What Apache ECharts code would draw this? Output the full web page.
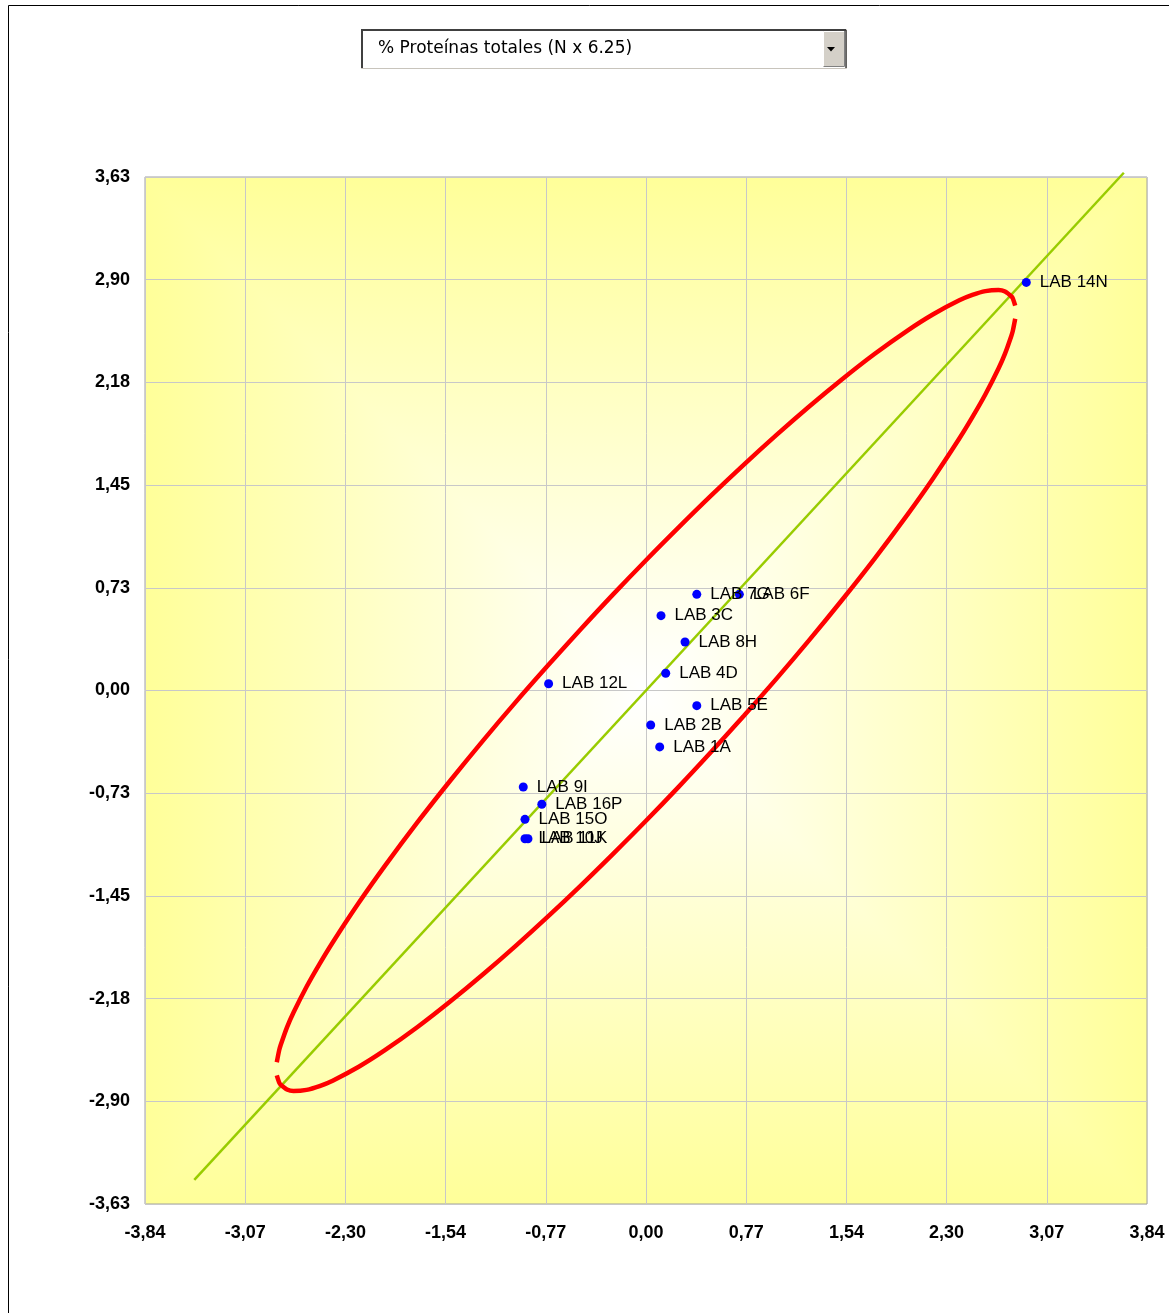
<!DOCTYPE html>
<html>
<head>
<meta charset="utf-8">
<title>Youden</title>
<script src="https://cdn.jsdelivr.net/npm/echarts@6/dist/echarts.min.js"></script>
<style>
  html, body { margin: 0; padding: 0; background: #ffffff; }
  #chart { width: 1169px; height: 1313px; }
</style>
</head>
<body>
<div id="chart"></div>
<script>
// Laboratory results (z-scores, sample X vs sample Y)
const labNames = ['LAB 1A', 'LAB 2B', 'LAB 3C', 'LAB 4D', 'LAB 5E', 'LAB 6F', 'LAB 7G', 'LAB 8H',
                  'LAB 9I', 'LAB 10J', 'LAB 11K', 'LAB 12L', 'LAB 14N', 'LAB 15O', 'LAB 16P'];
const labX = [0.105, 0.036, 0.115, 0.151, 0.389, 0.715, 0.389, 0.299,
              -0.940, -0.927, -0.904, -0.746, 2.913, -0.927, -0.798];
const labY = [-0.399, -0.244, 0.529, 0.122, -0.107, 0.680, 0.680, 0.343,
              -0.682, -1.048, -1.048, 0.048, 2.885, -0.911, -0.804];

// Axis ticks
const xTickLabels = ['-3,84', '-3,07', '-2,30', '-1,54', '-0,77', '0,00', '0,77', '1,54', '2,30', '3,07', '3,84'];
const yTickLabels = ['-3,63', '-2,90', '-2,18', '-1,45', '-0,73', '0,00', '0,73', '1,45', '2,18', '2,90', '3,63'];
const xAxisMin = -3.8375, xAxisMax = 3.8375, xAxisStep = 0.7675;
const yAxisMin = -3.63, yAxisMax = 3.63, yAxisStep = 0.726;

// Reference diagonal (x = y)
const diagonalEnds = [-3.46, 3.66];

// Confidence ellipse, upper branch (left to right) and lower branch (right to left)
const ellipseUpperX = [-2.828, -2.81, -2.8, -2.75, -2.7, -2.6, -2.5, -2.4, -2.2, -2.0,
                       -1.75, -1.5, -1.25, -1.0, -0.75, -0.5, -0.25, 0, 0.25, 0.5,
                       0.75, 1.0, 1.25, 1.5, 1.75, 2.0, 2.2, 2.4, 2.5, 2.6,
                       2.7, 2.75, 2.8, 2.81, 2.828];
const ellipseUpperY = [-2.628, -2.544, -2.511, -2.381, -2.276, -2.094, -1.932, -1.781, -1.501, -1.240,
                       -0.931, -0.638, -0.356, -0.084, 0.178, 0.433, 0.681, 0.921, 1.153, 1.379,
                       1.597, 1.807, 2.008, 2.199, 2.379, 2.543, 2.660, 2.758, 2.796, 2.823,
                       2.831, 2.820, 2.785, 2.771, 2.721];
const ellipseLowerX = [2.828, 2.81, 2.8, 2.75, 2.7, 2.6, 2.5, 2.4, 2.2, 2.0,
                       1.75, 1.5, 1.25, 1.0, 0.75, 0.5, 0.25, 0, -0.25, -0.5,
                       -0.75, -1.0, -1.25, -1.5, -1.75, -2.0, -2.2, -2.4, -2.5, -2.6,
                       -2.7, -2.75, -2.8, -2.81, -2.828];
const ellipseLowerY = [2.628, 2.544, 2.511, 2.381, 2.276, 2.094, 1.932, 1.781, 1.501, 1.240,
                       0.931, 0.638, 0.356, 0.084, -0.178, -0.433, -0.681, -0.921, -1.153, -1.379,
                       -1.597, -1.807, -2.008, -2.199, -2.379, -2.543, -2.660, -2.758, -2.796, -2.823,
                       -2.831, -2.820, -2.785, -2.771, -2.721];

const chart = echarts.init(document.getElementById('chart'), null, { renderer: 'canvas' });

const plot = { left: 145, top: 177, width: 1002, height: 1027 };
const pale = '#ffff99';

function tickText(list, min, step) {
  return v => {
    const i = Math.round((v - min) / step);
    return list[i] !== undefined ? list[i] : '';
  };
}

const zip = (xs, ys) => xs.map((x, i) => [x, ys[i]]);

const option = {
  animation: false,
  textStyle: { fontFamily: 'Liberation Sans, Arial, sans-serif' },
  grid: {
    left: plot.left, top: plot.top, width: plot.width, height: plot.height,
    containLabel: false,
    outerBoundsMode: 'none',
    show: true,
    backgroundColor: 'transparent',
    borderColor: '#a0a0a0',
    borderWidth: 1
  },
  graphic: {
    elements: [
      // outer chart frame
      { type: 'rect', z: -20, silent: true,
        shape: { x: 8.5, y: 5.5, width: 1300, height: 1400 },
        style: { fill: '#ffffff', stroke: '#000000', lineWidth: 1 } },
      // plot area fill: yellow fading to white at the centre
      { type: 'rect', z: -10, silent: true,
        shape: { x: plot.left, y: plot.top, width: plot.width, height: plot.height },
        style: { fill: new echarts.graphic.LinearGradient(0, 0, 1, 0, [
          { offset: 0, color: pale }, { offset: 0.5, color: '#ffffff' }, { offset: 1, color: pale }]) } },
      { type: 'rect', z: -9, silent: true,
        shape: { x: plot.left, y: plot.top, width: plot.width, height: plot.height },
        style: { blend: 'darken', fill: new echarts.graphic.LinearGradient(0, 0, 0, 1, [
          { offset: 0, color: pale }, { offset: 0.5, color: '#ffffff' }, { offset: 1, color: pale }]) } },
      // selector box
      { type: 'rect', z: 5, silent: true,
        shape: { x: 361.5, y: 29.5, width: 485, height: 39 },
        style: { fill: '#ffffff', stroke: '#c8c4bc', lineWidth: 1 } },
      { type: 'polyline', z: 6, silent: true,
        shape: { points: [[362, 68], [362, 30], [846, 30]] },
        style: { stroke: '#404040', lineWidth: 2, fill: null } },
      { type: 'polyline', z: 6, silent: true,
        shape: { points: [[846, 30], [846, 68]] },
        style: { stroke: '#404040', lineWidth: 1.5, fill: null } },
      { type: 'rect', z: 6, silent: true,
        shape: { x: 823, y: 31, width: 22, height: 35 },
        style: { fill: '#d4d0c8' } },
      { type: 'polyline', z: 7, silent: true,
        shape: { points: [[823.5, 66], [823.5, 31.5], [845, 31.5]] },
        style: { stroke: '#ffffff', lineWidth: 1, fill: null } },
      { type: 'polyline', z: 7, silent: true,
        shape: { points: [[823.5, 66.5], [844.5, 66.5], [844.5, 31]] },
        style: { stroke: '#808080', lineWidth: 1, fill: null } },
      { type: 'polygon', z: 7, silent: true,
        shape: { points: [[827, 47], [835, 47], [831, 51.5]] },
        style: { fill: '#000000' } },
      { type: 'text', z: 7, silent: true,
        x: 378, y: 48.5,
        style: { text: '% Proteínas totales (N x 6.25)', fill: '#000000',
                 font: '17px "DejaVu Sans", sans-serif', verticalAlign: 'middle', align: 'left' } }
    ]
  },
  xAxis: {
    type: 'value',
    min: xAxisMin, max: xAxisMax, interval: xAxisStep,
    axisLine: { show: false },
    axisTick: { show: false },
    splitLine: { show: true, lineStyle: { color: '#c8c8c8', width: 1 } },
    axisLabel: {
      showMinLabel: true, showMaxLabel: true,
      margin: 20, color: '#000000', fontWeight: 'bold', fontSize: 18,
      fontFamily: 'Liberation Sans, Arial, sans-serif',
      formatter: tickText(xTickLabels, xAxisMin, xAxisStep)
    }
  },
  yAxis: {
    type: 'value',
    min: yAxisMin, max: yAxisMax, interval: yAxisStep,
    axisLine: { show: false },
    axisTick: { show: false },
    splitLine: { show: true, lineStyle: { color: '#c8c8c8', width: 1 } },
    axisLabel: {
      showMinLabel: true, showMaxLabel: true,
      margin: 15, color: '#000000', fontWeight: 'bold', fontSize: 18,
      padding: [8, 0, 0, 0],
      fontFamily: 'Liberation Sans, Arial, sans-serif',
      formatter: tickText(yTickLabels, yAxisMin, yAxisStep)
    }
  },
  series: [
    {
      name: 'diagonal', type: 'line', clip: false, z: 2,
      symbol: 'none', silent: true,
      data: diagonalEnds.map(v => [v, v]),
      lineStyle: { color: '#99cc00', width: 2.5 }
    },
    {
      name: 'ellipse-upper', type: 'line', z: 3, symbol: 'none', silent: true,
      smooth: 0.3,
      data: zip(ellipseUpperX, ellipseUpperY),
      lineStyle: { color: '#ff0000', width: 4.5 }
    },
    {
      name: 'ellipse-lower', type: 'line', z: 3, symbol: 'none', silent: true,
      smooth: 0.3,
      data: zip(ellipseLowerX, ellipseLowerY),
      lineStyle: { color: '#ff0000', width: 4.5 }
    },
    {
      name: 'labs', type: 'scatter', z: 5,
      symbol: 'circle', symbolSize: 9,
      itemStyle: { color: '#0000ff', opacity: 1 },
      label: {
        show: true, position: 'right', distance: 9,
        color: '#000000', fontSize: 17,
        fontFamily: 'Liberation Sans, Arial, sans-serif',
        formatter: p => p.name
      },
      labelLayout: { hideOverlap: false },
      data: labNames.map((n, i) => ({ name: n, value: [labX[i], labY[i]] }))
    }
  ]
};

chart.setOption(option);
</script>
</body>
</html>
